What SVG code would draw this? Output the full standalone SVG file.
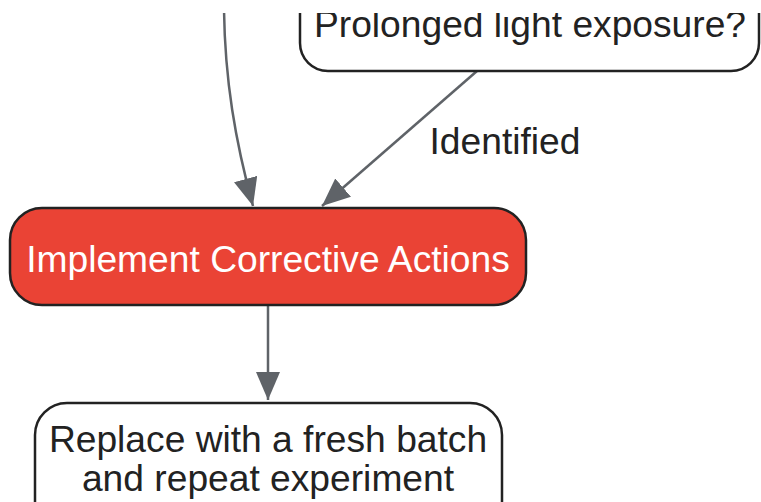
<svg xmlns="http://www.w3.org/2000/svg" width="761" height="502" viewBox="0 0 761 502">
<style>
.node{fill:#ffffff;stroke:#222222;stroke-width:2.5}
.hot{fill:#EA4335;stroke:#222222;stroke-width:2.5}
.t{font-family:"Liberation Sans",Arial,sans-serif;font-size:37.2px;fill:#222222;text-anchor:middle}
.tw{fill:#ffffff}
.edge{fill:none;stroke:#5f6368;stroke-width:2.5}
</style>
<defs>
<marker id="ah" markerUnits="userSpaceOnUse" markerWidth="30" markerHeight="26" refX="28" refY="12" orient="auto">
<path d="M0,0 L28,12 L0,24 Z" fill="#5f6368"/>
</marker>
</defs>
<g id="edges">
<path class="edge" d="M224,10 C225,80 235,140 253,206" marker-end="url(#ah)"/>
<path class="edge" d="M477,71 L322,206" marker-end="url(#ah)"/>
<text class="t" x="505" y="154">Identified</text>
<path class="edge" d="M268,305 L268,400" marker-end="url(#ah)"/>
</g>
<g id="n_light">
<rect class="node" x="300" y="-40" width="459" height="111" rx="28"/>
<text class="t" x="530" y="37">Prolonged light exposure?</text>
</g>
<g id="n_actions">
<rect class="hot" x="10" y="208" width="516" height="97" rx="32"/>
<text class="t tw" x="268" y="272">Implement Corrective Actions</text>
</g>
<g id="n_replace">
<rect class="node" x="35" y="403" width="467" height="130" rx="32"/>
<text class="t" x="268" y="452">Replace with a fresh batch</text>
<text class="t" x="268" y="491">and repeat experiment</text>
</g>
<rect x="0" y="0" width="761" height="13" fill="#ffffff"/>
</svg>
